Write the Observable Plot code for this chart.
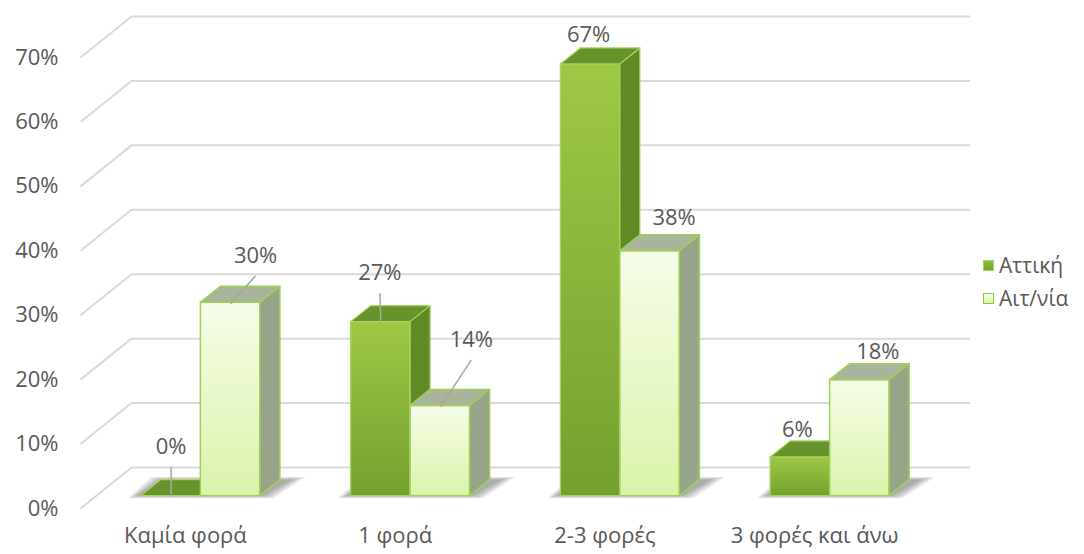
<!DOCTYPE html>
<html>
<head>
<meta charset="utf-8">
<script src="https://cdn.jsdelivr.net/npm/d3@7"></script>
<script src="https://cdn.jsdelivr.net/npm/@observablehq/plot@0.6"></script>
<style>
  html, body { margin: 0; padding: 0; background: #ffffff; }
  #wrap { position: relative; width: 1084px; height: 554px; font-family: "Open Sans", "Noto Sans", sans-serif; }
  #legend { position: absolute; left: 983px; top: 249px; font-size: 21px; color: #595959; line-height: 33px; }
  #legend .item { display: flex; align-items: center; white-space: nowrap; }
  #legend .sw { width: 11px; height: 11px; margin-right: 5px; box-sizing: border-box; }
</style>
</head>
<body>
<div id="wrap"></div>
<script>
// ---------- data ----------
const categories = ["Καμία φορά", "1 φορά", "2-3 φορές", "3 φορές και άνω"];
const series = ["Αττική", "Αιτ/νία"];
const attiki = [0, 27, 67, 6];
const aitnia = [30, 14, 38, 18];
const yTicks = [0, 10, 20, 30, 40, 50, 60, 70];

// ---------- layout / style (pixels) ----------
const W = 1084, H = 554;
const plotLeft = 80, plotRight = 919, plotBottom = 508, plotTop = 57;
const yMax = 70;
const kx = (plotRight - plotLeft) / categories.length; // px per x unit
const ky = (plotBottom - plotTop) / yMax;              // px per y unit
const ux = p => p / kx, uy = p => p / ky;
const floorD = {x: ux(51), y: uy(41)};     // depth of the chart floor
const barOff = {x: ux(15.5), y: uy(12.4)}; // bars sit mid-depth
const barD = {x: ux(20), y: uy(16)};       // depth of each bar
const barW = ux(59.5);
const fontPx = 22;
// label nudges in px (category-major, series-minor) and leader lines
const labelNudge = [[0, -33], [25, -31], [-1, -33], [31, -50], [-2, -13], [24, -17], [-3, -11], [18, -12]];
const hasLeader = [true, true, true, true, false, false, false, false];
// soft shadow layers: outward spread in px
const shadowSpread = [9, 6, 3, 0];

const style = {
  "Αττική": {front: "url(#gA)", top: "#66932b", side: "#5f8a25", stroke: "#a9d45e", sw: 1.2},
  "Αιτ/νία": {front: "url(#gB)", top: "#a9b49a", side: "#97a489", stroke: "#9fd058", sw: 1.5}
};

// ---------- build rows ----------
const values = [attiki, aitnia];
const rows = [];
categories.forEach((c, i) => {
  series.forEach((s, j) => {
    const v = values[j][i];
    const x1 = i + 0.5 + (j - 1) * barW + barOff.x;
    rows.push({cat: c, s, j, i, v, x1, x2: x1 + barW, y0: barOff.y, y1: v + barOff.y, id: c + "|" + s});
  });
});
const topPts = rows.flatMap(r => [
  {id: r.id, s: r.s, y: r.y1, x1: r.x1, x2: r.x2},
  {id: r.id, s: r.s, y: r.y1 + barD.y, x1: r.x1 + barD.x, x2: r.x2 + barD.x}
]);
const sidePts = rows.flatMap(r => [
  {id: r.id, s: r.s, x: r.x2, y1: r.y0, y2: r.y1},
  {id: r.id, s: r.s, x: r.x2 + barD.x, y1: r.y0 + barD.y, y2: r.y1 + barD.y}
]);
// floor shadows per category group, layered for softness
const shadowPts = shadowSpread.flatMap((e, L) => categories.flatMap((c, i) => {
  const gx1 = i + 0.5 - barW + barOff.x, gx2 = i + 0.5 + barW + barOff.x;
  return [
    {id: c + L, L, y: barOff.y - uy(e * 0.3), x1: gx1 - ux(4 + e), x2: gx2 + ux(4 + e)},
    {id: c + L, L, y: barOff.y + barD.y + uy(e * 0.3), x1: gx1 + barD.x - ux(e), x2: gx2 + barD.x + ux(12 + 1.5 * e)}
  ];
}));
// labels
const labels = rows.map((r, k) => {
  const cx = (r.x1 + r.x2) / 2;
  const lx = cx + ux(labelNudge[k][0]);
  const ly = r.y1 + barD.y - uy(labelNudge[k][1]);
  return {text: r.v + "%", x: lx, y: ly, lead: hasLeader[k], bx: cx, by: r.y1 - uy(1)};
});
const leaders = labels.filter(d => d.lead).map(d => ({x1: d.x, y1: d.y - uy(20), x2: d.bx, y2: d.by}));

const grid = {stroke: "#d9d9d9", strokeWidth: 2};

function barMarks(s) {
  const st = style[s];
  return [
    Plot.rect(rows.filter(r => r.s === s), {x1: "x1", x2: "x2", y1: "y0", y2: "y1", fill: st.front, stroke: st.stroke, strokeWidth: st.sw}),
    Plot.areaX(topPts.filter(r => r.s === s), {y: "y", x1: "x1", x2: "x2", z: "id", fill: st.top, stroke: st.stroke, strokeWidth: st.sw, curve: "linear"}),
    Plot.areaY(sidePts.filter(r => r.s === s), {x: "x", y1: "y1", y2: "y2", z: "id", fill: st.side, stroke: st.stroke, strokeWidth: st.sw, curve: "linear"})
  ];
}

const chart = Plot.plot({
  width: W, height: H,
  marginLeft: plotLeft, marginRight: W - plotRight, marginTop: plotTop, marginBottom: H - plotBottom,
  x: {type: "linear", domain: [0, categories.length]},
  y: {type: "linear", domain: [0, yMax]},
  style: {fontFamily: "'Open Sans', 'Noto Sans', sans-serif", fontSize: fontPx + "px", color: "#595959", background: "transparent", overflow: "visible"},
  marks: [
    Plot.link(yTicks, {x1: () => 0, y1: d => d, x2: () => floorD.x, y2: d => d + floorD.y, ...grid}),
    Plot.ruleY(yTicks, {y: d => d + floorD.y, x1: () => floorD.x, x2: () => categories.length + floorD.x, ...grid}),
    Plot.axisY({ticks: yTicks, tickFormat: d => d + "%", tickSize: 0, tickPadding: 22, label: null, fontSize: fontPx, fill: "#595959"}),
    Plot.axisX({ticks: categories.map((c, i) => i + 0.5), tickFormat: t => categories[Math.floor(t)], tickSize: 0, tickPadding: 19, label: null, fontSize: fontPx, fill: "#595959"}),
    Plot.areaX(shadowPts, {y: "y", x1: "x1", x2: "x2", z: "id", fill: "#404040", fillOpacity: 0.13, curve: "linear"}),
    ...barMarks("Αττική"),
    ...barMarks("Αιτ/νία"),
    Plot.link(leaders, {x1: "x1", y1: "y1", x2: "x2", y2: "y2", stroke: "#a6a6a6", strokeWidth: 1.5}),
    Plot.text(labels, {x: "x", y: "y", text: "text", fontSize: fontPx, fill: "#595959"})
  ]
});

// gradients
const svg = d3.select(chart);
const defs = svg.insert("defs", ":first-child");
const gA = defs.append("linearGradient").attr("id", "gA").attr("x1", 0).attr("y1", 0).attr("x2", 0).attr("y2", 1);
gA.append("stop").attr("offset", "0%").attr("stop-color", "#9fc845");
gA.append("stop").attr("offset", "100%").attr("stop-color", "#74a02f");
const gB = defs.append("linearGradient").attr("id", "gB").attr("x1", 0).attr("y1", 0).attr("x2", 0).attr("y2", 1);
gB.append("stop").attr("offset", "0%").attr("stop-color", "#f6fde8");
gB.append("stop").attr("offset", "100%").attr("stop-color", "#dbf3ab");

const wrap = document.getElementById("wrap");
wrap.appendChild(chart);

// legend
const legend = d3.select(wrap).append("div").attr("id", "legend");
series.forEach(s => {
  const it = legend.append("div").attr("class", "item");
  it.append("div").attr("class", "sw")
    .style("background", s === "Αττική" ? "linear-gradient(#8fbd3c,#76a231)" : "linear-gradient(#f6fde8,#dbf3ab)")
    .style("border", "1px solid " + (s === "Αττική" ? "#a9d45e" : "#8fc44c"));
  it.append("span").text(s);
});
</script>
</body>
</html>
